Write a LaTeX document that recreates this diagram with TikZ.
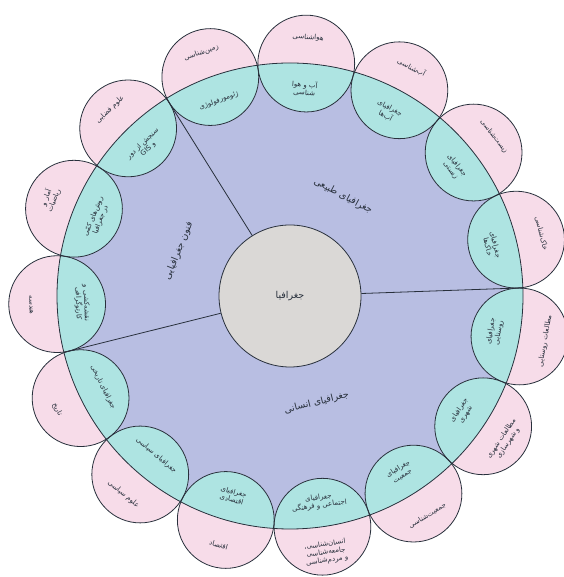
\documentclass[tikz,border=0pt]{standalone}
\usepackage{fontspec}
\newfontfamily\arabicfont[Script=Arabic]{DejaVu Sans}
\TeXXeTstate=1
\newcommand\rtl[1]{\beginR#1\endR}
\definecolor{lav}{RGB}{184,190,226}
\definecolor{cy}{RGB}{174,228,226}
\definecolor{pk}{RGB}{247,220,233}
\definecolor{gr}{RGB}{218,216,214}
\definecolor{ink}{RGB}{40,48,60}
\tikzset{
  outline/.style={draw=ink, line width=0.8pt},
  smallc/.style={circle, inner sep=0pt, minimum size=96.8pt, fill=pk},
  lbl/.style={font=\arabicfont\fontsize{7}{8}\selectfont, align=center, text=ink, inner sep=0pt},
  seclbl/.style={font=\arabicfont\fontsize{9.5}{11}\selectfont, text=ink, inner sep=0pt},
  divider/.style={draw=ink, line width=0.8pt}
}
\newcommand\pairlbl[5]{%
  \node[lbl, rotate=#3] (p#1) at (#2:259) {#4};
  \node[lbl, rotate=#3] (c#1) at (#2:208) {#5};}
\begin{document}
\begin{tikzpicture}[x=1pt,y=1pt]
\useasboundingbox (0,0) rectangle (563,577);
\fill[white] (0,0) rectangle (563,577);
\begin{scope}[shift={(290,281)}]
  \node[circle, inner sep=0pt, minimum size=466pt, fill=lav] (big) at (0,0) {};
  \foreach \a [count=\i] in {110,86,62,38,14,-10,-34,-58,-82,-106,-130,-154,-178,158,134} {
    \node[smallc] (s\i) at (\a:233) {};
  }
  \begin{scope}
    \clip (0,0) circle (233);
    \foreach \a in {110,86,62,38,14,-10,-34,-58,-82,-106,-130,-154,-178,158,134} {
      \fill[cy] (\a:233) circle (48.4);
    }
  \end{scope}
  \draw[outline] (big.center) circle (233);
  \foreach \i in {1,...,15} {
    \draw[outline] (s\i.center) circle (48.4);
  }
  \pairlbl{1}{110}{20}{\rtl{زمین‌شناسی}}{\rtl{ژئومورفولوژی}}
  \pairlbl{2}{86}{-4}{\rtl{هواشناسی}}{\rtl{آب و هوا}\\\rtl{شناسی}}
  \pairlbl{3}{62}{-28}{\rtl{آب‌شناسی}}{\rtl{جغرافیای}\\\rtl{آب‌ها}}
  \pairlbl{4}{38}{-52}{\rtl{زیست‌شناسی}}{\rtl{جغرافیای}\\\rtl{زیستی}}
  \pairlbl{5}{14}{-76}{\rtl{خاک‌شناسی}}{\rtl{جغرافیای}\\\rtl{خاک‌ها}}
  \pairlbl{6}{-10}{80}{\rtl{مطالعات روستایی}}{\rtl{جغرافیای}\\\rtl{روستایی}}
  \pairlbl{7}{-34}{56}{\rtl{مطالعات شهری}\\\rtl{و شهرسازی}}{\rtl{جغرافیای}\\\rtl{شهری}}
  \pairlbl{8}{-58}{32}{\rtl{جمعیت‌شناسی}}{\rtl{جغرافیای}\\\rtl{جمعیت}}
  \pairlbl{9}{-82}{8}{\rtl{انسان‌شناسی،}\\\rtl{جامعه‌شناسی}\\\rtl{و مردم‌شناسی}}{\rtl{جغرافیای}\\\rtl{اجتماعی و فرهنگی}}
  \pairlbl{10}{-106}{-16}{\rtl{اقتصاد}}{\rtl{جغرافیای}\\\rtl{اقتصادی}}
  \pairlbl{11}{-130}{-40}{\rtl{علوم سیاسی}}{\rtl{جغرافیای سیاسی}}
  \pairlbl{12}{-154}{-64}{\rtl{تاریخ}}{\rtl{جغرافیای تاریخی}}
  \pairlbl{13}{-178}{-88}{\rtl{هندسه}}{\rtl{نقشه‌کشی و}\\\rtl{کارتوگرافی}}
  \pairlbl{14}{158}{68}{\rtl{آمار و}\\\rtl{ریاضیات}}{\rtl{روش‌های کمّی}\\\rtl{در جغرافیا}}
  \pairlbl{15}{134}{44}{\rtl{علوم فضایی}}{\rtl{سنجش از دور}\\\rtl{و GIS}}
  \node[circle, inner sep=0pt, minimum size=142pt, fill=gr, outline] (geo) at (0,0) {};
  \node[seclbl] (geolbl) at (geo) {\rtl{جغرافیا}};
  \coordinate (t1) at (2:233);
  \coordinate (t2) at (122:233);
  \coordinate (t3) at (-166:233);
  \draw[divider] (geo.2) -- (t1);
  \draw[divider] (geo.122) -- (t2);
  \draw[divider] (geo.-166) -- (t3);
  \node[seclbl, rotate=-28] (phys) at (62:113) {\rtl{جغرافیای طبیعی}};
  \node[seclbl, rotate=14] (hum) at (-76:110) {\rtl{جغرافیای انسانی}};
  \node[seclbl, rotate=68] (tech) at (158:120) {\rtl{فنون جغرافیایی}};
\end{scope}
\end{tikzpicture}
\end{document}
